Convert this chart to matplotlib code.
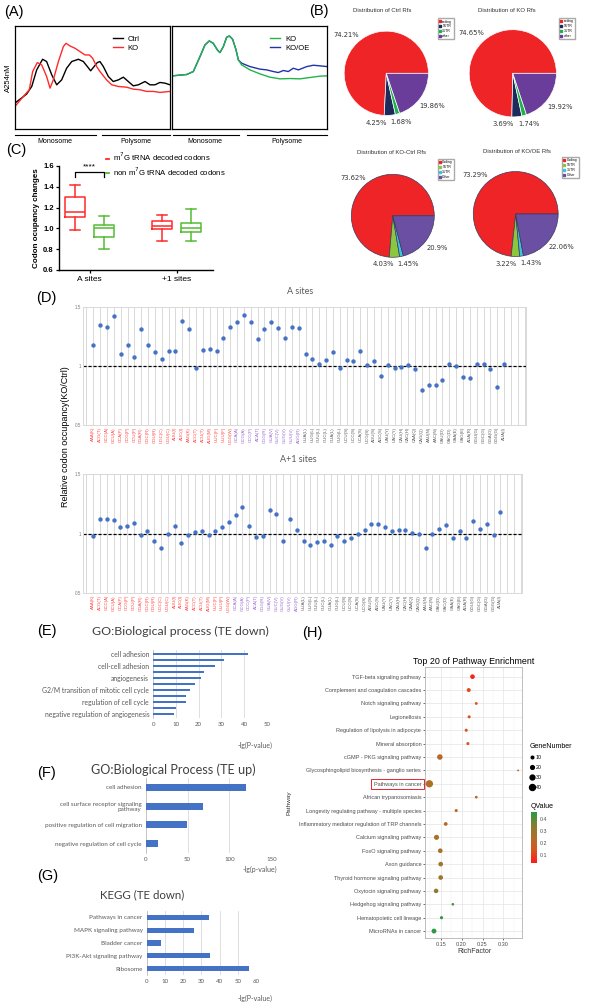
import matplotlib

matplotlib.use("Agg")
import matplotlib.pyplot as plt
import numpy as np
from matplotlib.cm import ScalarMappable
from matplotlib.colors import LinearSegmentedColormap, Normalize
from matplotlib.lines import Line2D

plt.rcParams["font.family"] = ["Liberation Sans", "DejaVu Sans"]

# ---------------- data ----------------
# (A) polysome profiles, elution position (%) vs A254 (relative)
CTRL_X = [0, 7.5, 10.8, 14.0, 17.8, 20.4, 23.7, 26.9, 30.1, 33.3, 36.6, 40.9, 44.1, 46.7, 48.8, 51.0,
          53.1, 54.8, 57.0, 60.2, 63.4, 66.7, 69.9, 73.1, 76.3, 79.6, 83.9, 87.1, 90.3, 93.5, 96.8, 100]
CTRL_Y = [0.252, 0.339, 0.413, 0.574, 0.677, 0.655, 0.526, 0.429, 0.477, 0.590, 0.655, 0.677, 0.655,
          0.606, 0.565, 0.606, 0.645, 0.655, 0.606, 0.510, 0.461, 0.477, 0.503, 0.461, 0.419, 0.429,
          0.461, 0.429, 0.429, 0.452, 0.445, 0.429]
KO_X = [0, 5.4, 9.2, 11.4, 14.4, 17.2, 20.4, 22.6, 24.7, 28.0, 31.2, 32.9, 35.5, 38.7, 41.9, 45.2,
        48.0, 50.1, 52.7, 54.8, 59.1, 62.4, 66.7, 72.0, 76.3, 80.6, 84.9, 89.2, 93.5, 100]
KO_Y = [0.219, 0.316, 0.381, 0.558, 0.645, 0.623, 0.510, 0.397, 0.477, 0.655, 0.800, 0.832, 0.806,
        0.784, 0.752, 0.719, 0.719, 0.687, 0.606, 0.558, 0.477, 0.429, 0.413, 0.406, 0.387, 0.381,
        0.365, 0.365, 0.355, 0.365]
KO2_X = [0, 5.0, 9.3, 13.6, 17.9, 21.1, 23.9, 26.5, 29.1, 30.8, 33.0, 35.1, 36.9, 39.0, 41.2, 42.7,
         44.8, 50.2, 56.7, 63.1, 69.6, 76.1, 82.5, 89.0, 95.5, 100]
KO2_Y = [0.516, 0.523, 0.529, 0.558, 0.703, 0.816, 0.855, 0.832, 0.768, 0.742, 0.800, 0.890, 0.903,
         0.871, 0.768, 0.671, 0.623, 0.574, 0.535, 0.503, 0.487, 0.490, 0.487, 0.500, 0.513, 0.516]
KOOE_X = [0, 5.0, 9.3, 13.6, 17.9, 21.1, 23.9, 26.5, 29.1, 30.8, 33.0, 35.1, 36.9, 39.0, 41.2, 42.7,
          44.8, 50.2, 56.7, 61.0, 65.3, 68.5, 71.8, 75.0, 78.2, 81.5, 86.9, 91.2, 95.5, 100]
KOOE_Y = [0.516, 0.523, 0.529, 0.558, 0.703, 0.816, 0.855, 0.832, 0.768, 0.742, 0.800, 0.890, 0.903,
          0.871, 0.768, 0.671, 0.639, 0.606, 0.581, 0.574, 0.558, 0.548, 0.568, 0.558, 0.590, 0.574,
          0.606, 0.619, 0.613, 0.606]

# (B) read distributions (%)
PARTS_TOP = ["coding", "5UTR", "3UTR", "other"]
PARTS_BOTTOM = ["Coding", "5UTR", "3UTR", "Other"]
CTRL_RFS = [74.21, 4.25, 1.68, 19.86]
KO_RFS = [74.65, 3.69, 1.74, 19.92]
KO_CTRL_RFS = [73.62, 4.03, 1.45, 20.9]
KO_OE_RFS = [73.29, 3.22, 1.43, 22.06]

# (C) box statistics: whislo, q1, med, q3, whishi
BOX_SITES = ["A sites", "+1 sites"]
M7G_BOX = [[0.985, 1.113, 1.155, 1.305, 1.417], [0.882, 0.991, 1.025, 1.068, 1.126]]
NON_M7G_BOX = [[0.799, 0.914, 1.003, 1.033, 1.119], [0.882, 0.962, 1.005, 1.049, 1.183]]

# (D) relative codon occupancy
RED_CODONS = ["AAA(K)", "ACG(T)", "GCC(A)", "GCU(A)", "CCA(P)", "CCG(P)", "CCU(P)", "CGA(R)",
              "CGC(R)", "CGU(R)", "UGC(C)", "UGU(C)", "AUU(I)", "AUC(I)", "AAG(K)", "ACC(T)",
              "ACU(T)", "AUG(M)", "UUC(F)", "UUU(F)", "UGG(W)"]
PURPLE_CODONS = ["GCA(A)", "GCG(A)", "CCC(P)", "ACA(T)", "CGG(R)", "GUA(V)", "GUC(V)", "GUG(V)",
                 "GUU(V)", "AGG(R)"]
GRAY_CODONS = ["UUA(L)", "UUG(L)", "CUU(L)", "CUC(L)", "CUA(L)", "CUG(L)", "UCU(S)", "UCC(S)",
               "UCA(S)", "UCG(S)", "AGU(S)", "AGC(S)", "UAU(Y)", "UAC(Y)", "CAU(H)", "CAC(H)",
               "CAA(Q)", "CAG(Q)", "AAU(N)", "AAC(N)", "GAU(D)", "GAC(D)", "GAA(E)", "GAG(E)",
               "AGA(R)", "GGU(G)", "GGC(G)", "GGA(G)", "GGG(G)", "AUA(I)"]
A_SITE = [1.18, 1.345, 1.334, 1.42, 1.10, 1.18, 1.076, 1.315, 1.177, 1.118,
          1.056, 1.13, 1.124, 1.38, 1.315, 0.983, 1.132, 1.146, 1.124, 1.24,
          1.33, 1.37, 1.43, 1.37, 1.23, 1.31, 1.376, 1.323, 1.236, 1.33,
          1.32, 1.098, 1.062, 1.02, 1.048, 1.118, 0.986, 1.053, 1.042, 1.126,
          1.011, 1.039, 0.916, 1.011, 0.986, 0.989, 1.011, 0.978, 0.80, 0.84,
          0.84, 0.882, 1.014, 0.997, 0.907, 0.899, 1.017, 1.02, 0.978, 0.823, 1.017]
A1_SITE = [0.98, 1.121, 1.121, 1.11, 1.056, 1.067, 1.087, 0.986, 1.017, 0.933,
           0.876, 0.994, 1.067, 0.924, 0.986, 1.011, 1.025, 0.989, 1.022, 1.053,
           1.093, 1.154, 1.222, 1.062, 0.969, 0.983, 1.2, 1.16, 0.941, 1.126,
           1.028, 0.933, 0.9, 0.927, 0.938, 0.904, 0.983, 0.933, 0.966, 0.992,
           1.031, 1.084, 1.084, 1.053, 1.022, 1.028, 1.031, 1.008, 0.992, 0.879,
           1.0, 1.034, 1.073, 0.966, 1.017, 0.963, 1.101, 1.039, 1.079, 0.986, 1.177]

# (E)-(G) enrichment bars, -lg(P)
GO_DOWN_TERMS = ["cell adhesion", "extracellular matrix organization", "cell-cell adhesion",
                 "cell migration", "angiogenesis", "positive regulation of cell proliferation",
                 "G2/M transition of mitotic cell cycle", "cell division", "regulation of cell cycle",
                 "mitotic nuclear division", "negative regulation of angiogenesis"]
GO_DOWN_VALUES = [41.7, 31.0, 27.1, 22.3, 21.2, 18.2, 16.1, 14.2, 14.2, 10.1, 9.1]
GO_UP_TERMS = ["cell adhesion", "cell surface receptor signaling\npathway",
               "positive regulation of cell migration", "negative regulation of cell cycle"]
GO_UP_VALUES = [120, 69, 49, 15]
KEGG_TERMS = ["Pathways in cancer", "MAPK signaling pathway", "Bladder cancer",
              "PI3K-Akt signaling pathway", "Ribosome"]
KEGG_VALUES = [34, 26, 8, 35, 56]

# (H) pathway enrichment
PATHWAYS = ["TGF-beta signaling pathway", "Complement and coagulation cascades",
            "Notch signaling pathway", "Legionellosis", "Regulation of lipolysis in adipocyte",
            "Mineral absorption", "cGMP - PKG signaling pathway",
            "Glycosphingolipid biosynthesis - ganglio series", "Pathways in cancer",
            "African trypanosomiasis", "Longevity regulating pathway - multiple species",
            "Inflammatory mediator regulation of TRP channels", "Calcium signaling pathway",
            "FoxO signaling pathway", "Axon guidance", "Thyroid hormone signaling pathway",
            "Oxytocin signaling pathway", "Hedgehog signaling pathway",
            "Hematopoietic cell lineage", "MicroRNAs in cancer"]
RICH_FACTOR = [0.226, 0.217, 0.235, 0.218, 0.211, 0.215, 0.148, 0.335, 0.123, 0.235,
               0.187, 0.162, 0.140, 0.149, 0.150, 0.150, 0.139, 0.179, 0.152, 0.134]
GENE_NUMBER = [28, 22, 12, 14, 14, 14, 36, 3, 52, 11, 14, 20, 32, 28, 28, 28, 27, 10, 15, 30]
QVALUE = [0.05, 0.12, 0.15, 0.15, 0.15, 0.16, 0.22, 0.20, 0.25, 0.20,
          0.22, 0.23, 0.26, 0.27, 0.28, 0.29, 0.32, 0.42, 0.45, 0.47]

# ---------------- style ----------------
W, H = 600, 1008
RED = "#ff2a2a"
GREEN = "#55bb33"
BAR_BLUE = "#4472c4"
XL_GRAY = "#595959"
CALIBRI = ["Lato", "DejaVu Sans"]

fig = plt.figure(figsize=(W / 100, H / 100), dpi=100)


def px_axes(x0, y0, x1, y1):
    return fig.add_axes([x0 / W, 1 - y1 / H, (x1 - x0) / W, (y1 - y0) / H])


def ftext(x, y, s, **kw):
    return fig.text(x / W, 1 - y / H, s, **kw)


for lab, (x, y) in zip("ABCDEFGH", [(4, 12), (309, 11.5), (6, 150), (36, 298),
                                     (37, 631), (37, 773), (37, 876), (302, 633)]):
    ftext(x, y, f"({lab})", fontsize=10.5, ha="left", va="center")

# ---------------- (A) ----------------
axA1 = px_axes(15, 26, 170, 129)
axA2 = px_axes(172.3, 26, 327, 129)
axA1.plot(CTRL_X, CTRL_Y, color="black", lw=1.0, label="Ctrl")
axA1.plot(KO_X, KO_Y, color=RED, lw=1.0, label="KO")
axA2.plot(KOOE_X, KOOE_Y, color="#2233aa", lw=1.0, label="KO/OE")
axA2.plot(KO2_X, KO2_Y, color="#22b34a", lw=1.0, label="KO")
axA1.set_ylabel("A254nM", fontsize=5.5, labelpad=2)
for ax, order in ((axA1, [0, 1]), (axA2, [1, 0])):
    ax.set_xlim(0, 100)
    ax.set_ylim(0, 1)
    ax.set_xticks([])
    ax.set_yticks([])
    for sp in ax.spines.values():
        sp.set_linewidth(0.9)
    h, l = ax.get_legend_handles_labels()
    ax.legend([h[i] for i in order], [l[i] for i in order], loc="upper left",
              bbox_to_anchor=(0.6, 0.96), frameon=False, fontsize=5.5, handlelength=1.3,
              handletextpad=0.6, labelspacing=0.25, borderpad=0.2)
    spans = [(0, 0.52, 0.26, "Monosome"), (0.56, 1.0, 0.78, "Polysome")] if ax is axA1 else \
        [(0.006, 0.43, 0.21, "Monosome"), (0.48, 1.0, 0.74, "Polysome")]
    for a, b, c, name in spans:
        ax.plot([a, b], [-0.06, -0.06], transform=ax.transAxes, clip_on=False, color="black", lw=0.8)
        ax.text(c, -0.12, name, transform=ax.transAxes, fontsize=5, ha="center", va="center")

# ---------------- (B) ----------------
PCT_POS = [(-0.95, 0.92), (-0.23, -1.17), (0.36, -1.16), (1.08, -0.78)]


def draw_pie(cx, cy, r, values, colors, edge, title, title_x, title_y, names, leg_x, leg_y):
    ax = px_axes(cx - r, cy - r, cx + r, cy + r)
    ax.pie(values, colors=colors, startangle=0, counterclock=True,
           wedgeprops=dict(edgecolor=edge, linewidth=0.5))
    ax.set_xlim(-1.02, 1.02)
    ax.set_ylim(-1.02, 1.02)
    for (dx, dy), v in zip(PCT_POS, values):
        ax.text(dx, dy, f"{v:g}%", ha="center", va="center", fontsize=4.9,
                family=["DejaVu Sans"], color="#333333")
    ftext(title_x, title_y, title, fontsize=4.3, ha="center", va="center", color="#333333")
    handles = [Line2D([], [], ls="", marker="s", markersize=1.6, color=c) for c in colors]
    fig.legend(handles, names, loc="upper left", bbox_to_anchor=(leg_x / W, 1 - leg_y / H),
               fontsize=2.4, frameon=True, fancybox=False, edgecolor="#aaaaaa",
               borderpad=0.4, labelspacing=0.25, handlelength=0.6, handletextpad=0.4,
               borderaxespad=0, framealpha=1)


TOP_COLORS = ["#ee2427", "#1f2a5c", "#1db34a", "#6a3d9a"]
BOTTOM_COLORS = ["#ee2427", "#8cc63f", "#3fc1e0", "#6a4fa3"]
draw_pie(386.3, 73.3, 43, CTRL_RFS, TOP_COLORS, "white", "Distribution of Ctrl Rfs",
         381.7, 10, PARTS_TOP, 437.7, 18.3)
draw_pie(512.8, 73.3, 44.5, KO_RFS, TOP_COLORS, "white", "Distribution of KO Rfs",
         506.7, 10, PARTS_TOP, 559, 18)
draw_pie(392.8, 215.8, 42.3, KO_CTRL_RFS, BOTTOM_COLORS, "#3a3a5a", "Distribution of KO-Ctrl Rfs",
         391.7, 152.7, PARTS_BOTTOM, 437.7, 159)
draw_pie(515.7, 214, 43.3, KO_OE_RFS, BOTTOM_COLORS, "#3a3a5a", "Distribution of KO/OE Rfs",
         516.7, 151.7, PARTS_BOTTOM, 562, 157)

# ---------------- (C) ----------------
axC = px_axes(59.3, 166, 213, 270)
keys = ["whislo", "q1", "med", "q3", "whishi"]
for stats, color, shift in ((M7G_BOX, RED, -0.168), (NON_M7G_BOX, GREEN, 0.168)):
    bstats = [dict(zip(keys, s), fliers=[]) for s in stats]
    props = dict(color=color, linewidth=1.1)
    axC.bxp(bstats, positions=np.arange(1, len(stats) + 1) + shift, widths=0.23, showfliers=False,
            boxprops=props, medianprops=props, whiskerprops=props, capprops=props,
            manage_ticks=False)
axC.plot([0.832, 0.832, 1.168, 1.168], [1.49, 1.545, 1.545, 1.49], color="black", lw=0.9)
axC.text(1.0, 1.555, "****", ha="center", va="bottom", fontsize=6)
axC.set_xlim(0.65, 2.42)
axC.set_ylim(0.6, 1.6)
axC.set_xticks([1, 2])
axC.set_xticklabels(BOX_SITES, fontsize=6)
axC.set_yticks(np.arange(0.6, 1.61, 0.2))
axC.set_yticklabels([f"{v:.1f}" for v in np.arange(0.6, 1.61, 0.2)], fontsize=5.5, fontweight="bold")
axC.set_ylabel("Codon ocupancy changes", fontsize=5.8, fontweight="bold", labelpad=2)
axC.spines[["top", "right"]].set_visible(False)
axC.spines[["left", "bottom"]].set_linewidth(1.0)
axC.tick_params(length=2.5, width=0.9, pad=1.5)
axC.legend([Line2D([], [], color=RED, lw=1.3), Line2D([], [], color=GREEN, lw=1.3)],
           ["m$^7$G tRNA decoded codons", "non m$^7$G tRNA decoded codons"],
           loc="upper left", bbox_to_anchor=(106 / W, 1 - 151 / H), bbox_transform=fig.transFigure,
           frameon=False, fontsize=5.6, handlelength=0.35, handletextpad=0.5, labelspacing=0.3,
           borderpad=0, borderaxespad=0)

# ---------------- (D) ----------------
CODONS = RED_CODONS + PURPLE_CODONS + GRAY_CODONS
CODON_COLORS = ["#ff4040"] * len(RED_CODONS) + ["#9966cc"] * len(PURPLE_CODONS) + \
    ["#595959"] * len(GRAY_CODONS)


def codon_panel(ax, values, title, title_y):
    x = np.arange(len(values))
    ax.scatter(x, values, s=10, color=BAR_BLUE, zorder=3, linewidths=0)
    ax.axhline(1, color="black", ls=(0, (2.5, 1.5)), lw=0.9, zorder=2)
    ax.set_xlim(-1.5, 63.2)
    ax.set_ylim(0.5, 1.5)
    ax.set_yticks([0.5, 1, 1.5])
    ax.set_yticklabels(["0.5", "1", "1.5"], fontsize=3.3, color="#7f7f7f")
    ax.set_xticks(x)
    ax.set_xticklabels(CODONS, rotation=90, fontsize=3.2)
    for lbl, c in zip(ax.get_xticklabels(), CODON_COLORS):
        lbl.set_color(c)
    ax.set_xticks(np.arange(-1, 64), minor=True)
    ax.grid(True, which="both", axis="x", color="#d9d9d9", lw=0.7)
    ax.grid(True, which="major", axis="y", color="#d9d9d9", lw=0.7)
    ax.set_axisbelow(True)
    ax.tick_params(which="both", length=0, pad=1.5)
    for sp in ax.spines.values():
        sp.set_color("#d9d9d9")
        sp.set_linewidth(0.7)
    ax.text(0.49, title_y, title, transform=ax.transAxes, ha="center", va="center",
            fontsize=6.5, color=XL_GRAY, family=CALIBRI)


axD1 = px_axes(83, 307, 526, 425)
axD2 = px_axes(83, 474, 522, 593)
codon_panel(axD1, A_SITE, "A sites", 1.135)
codon_panel(axD2, A1_SITE, "A+1 sites", 1.126)
ftext(66, 437, "Relative codon occupancy(KO/Ctrl)", rotation=90, fontsize=6.5, ha="center", va="center")

# ---------------- (E)-(G) ----------------


def excel_bars(ax, terms, values, height, xmax, step, show_every, title, title_xy, title_size,
               label_size, xlabel, xlabel_xy):
    y = np.arange(len(terms))
    ax.barh(y, values, height=height, color=BAR_BLUE, zorder=3)
    pad = 0.1 if show_every > 1 else 0
    ax.set_ylim(len(terms) - 0.5 + pad, -0.5 - pad)
    ax.set_xlim(0, xmax)
    ax.set_xticks(np.arange(0, xmax + 0.1, step))
    ax.set_yticks(y[::show_every])
    ax.set_yticklabels(terms[::show_every], fontsize=label_size, color=XL_GRAY, family=CALIBRI)
    for lbl in ax.get_xticklabels():
        lbl.set_fontsize(4.4)
        lbl.set_color(XL_GRAY)
        lbl.set_family(CALIBRI)
    ax.grid(True, axis="x", color="#d9d9d9", lw=0.6, zorder=0)
    ax.tick_params(length=0, pad=3)
    for name, sp in ax.spines.items():
        sp.set_visible(name == "left")
        sp.set_color("#bfbfbf")
        sp.set_linewidth(0.6)
    ftext(*title_xy, title, fontsize=title_size, ha="center", va="center", color="#404040",
          family=CALIBRI)
    ftext(*xlabel_xy, xlabel, fontsize=5, ha="center", va="center", color=XL_GRAY, family=CALIBRI)


axE = px_axes(153.3, 650, 266.7, 718)
excel_bars(axE, GO_DOWN_TERMS, GO_DOWN_VALUES, 0.33, 50, 10, 2, "GO:Biological process (TE down)",
           (180, 631.7), 8.9, 4.9, "-lg(P-value)", (255, 745))
axF = px_axes(145.7, 778, 271.3, 853)
excel_bars(axF, GO_UP_TERMS, GO_UP_VALUES, 0.37, 150, 50, 1, "GO:Biological Process (TE up)",
           (173.3, 770), 9.1, 4.5, "-lg(p-value)", (260, 869))
axG = px_axes(146.7, 911, 256, 975)
excel_bars(axG, KEGG_TERMS, KEGG_VALUES, 0.4, 60, 10, 1, "KEGG (TE down)",
           (142.5, 895), 8.3, 4.5, "-lg(P-value)", (255, 998))

# ---------------- (H) ----------------
axH = px_axes(425, 667.3, 522.3, 938.3)
qcmap = LinearSegmentedColormap.from_list("qv", ["#ff1a1a", "#d9541f", "#b06f26", "#7f8030", "#2a9a45"])
qnorm = Normalize(0.033, 0.46)
yH = np.arange(len(PATHWAYS))
axH.scatter(RICH_FACTOR, yH, s=[(1.1 + 0.08 * n) ** 2 for n in GENE_NUMBER], c=QVALUE,
            cmap=qcmap, norm=qnorm, zorder=3, linewidths=0)
axH.set_ylim(19.54, -0.70)
axH.set_xlim(0.1125, 0.345)
axH.set_yticks(yH)
axH.set_yticklabels(PATHWAYS, fontsize=4, color="#4d4d4d")
axH.set_xticks([0.15, 0.20, 0.25, 0.30])
axH.set_xticklabels(["0.15", "0.20", "0.25", "0.30"], fontsize=4, color="#4d4d4d")
axH.set_xticks([0.125, 0.175, 0.225, 0.275, 0.325], minor=True)
axH.grid(True, which="major", color="#e5e5e5", lw=0.5)
axH.grid(True, which="minor", axis="x", color="#f2f2f2", lw=0.35)
axH.set_axisbelow(True)
axH.tick_params(which="major", length=1.5, width=0.5, color="#333333", pad=1.2)
axH.tick_params(which="minor", length=0)
for sp in axH.spines.values():
    sp.set_color("#b3b3b3")
    sp.set_linewidth(0.6)
axH.get_yticklabels()[PATHWAYS.index("Pathways in cancer")].set_bbox(
    dict(boxstyle="square,pad=0.45", fc="none", ec="#e8262b", lw=0.7))
ftext(473.5, 661, "Top 20 of Pathway Enrichment", fontsize=6.4, ha="center", va="center")
ftext(474, 951.7, "RichFactor", fontsize=5, ha="center", va="center", color="#333333")
ftext(289, 803, "Pathway", fontsize=4.6, rotation=90, ha="center", va="center", color="#333333")

size_levels = [10, 20, 30, 40]
fig.legend([Line2D([], [], ls="", marker="o", color="black", markersize=1.1 + 0.08 * n)
            for n in size_levels], [str(n) for n in size_levels],
           loc="upper left", bbox_to_anchor=(529 / W, 1 - 742 / H), title="GeneNumber",
           alignment="left", frameon=False, fontsize=3.8, title_fontsize=5, labelspacing=0.95,
           handlelength=0.8, handletextpad=0.3, borderpad=0.2, borderaxespad=0)
cax = px_axes(531, 812, 537, 863)
cb = fig.colorbar(ScalarMappable(norm=qnorm, cmap=qcmap), cax=cax, ticks=[0.1, 0.2, 0.3, 0.4])
cb.outline.set_visible(False)
cb.ax.tick_params(labelsize=3.8, length=0, pad=2, labelcolor="#4d4d4d")
ftext(531, 806, "QValue", fontsize=5, ha="left", va="center")

fig.savefig("out.png", dpi=100, facecolor="white")
